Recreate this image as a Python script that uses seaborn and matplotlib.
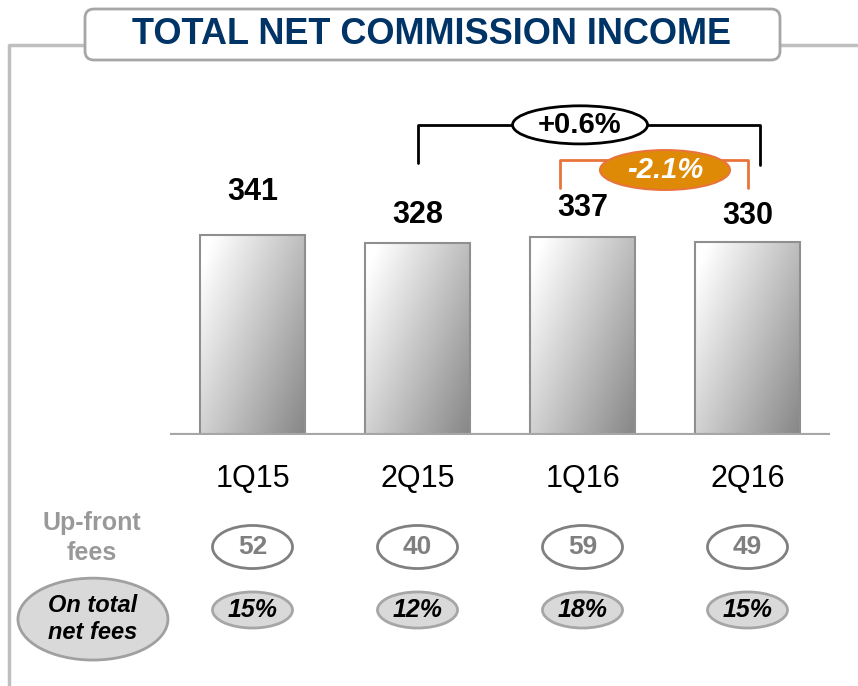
import numpy as np
import pandas as pd
import matplotlib
matplotlib.use("Agg")
import matplotlib.pyplot as plt
from matplotlib.patches import Ellipse, FancyBboxPatch
import seaborn as sns

# chart data
quarters = ["1Q15", "2Q15", "1Q16", "2Q16"]
net_commission = [341, 328, 337, 330]
upfront_fees = [52, 40, 59, 49]
upfront_share = ["15%", "12%", "18%", "15%"]
change_yoy = "+0.6%"
change_qoq = "-2.1%"
title = "TOTAL NET COMMISSION INCOME"

sns.set_theme(style="white")
plt.rcParams["font.family"] = ["Liberation Sans", "DejaVu Sans"]

W, H = 858, 686
fig = plt.figure(figsize=(W / 100, H / 100), dpi=100)

# main bar axes (pixel layout: x 170..830, baseline at y=435, top at y=85)
ax = fig.add_axes([170 / W, 1 - 435 / H, 660 / W, 350 / H])
df = pd.DataFrame({"quarter": quarters, "value": net_commission})
sns.barplot(data=df, x="quarter", y="value", ax=ax, width=0.64,
            color="white", edgecolor="#8f8f8f", linewidth=1.5, saturation=1)

# gradient fill on each bar
ny, nx = 100, 100
u = np.linspace(0, 1, nx)[None, :]
v = np.linspace(1, 0, ny)[:, None]
t = np.clip(0.62 * u + 0.45 * (1 - v) - 0.08, 0, 1)
grad = np.ones((ny, nx, 3)) * (1 - 0.48 * t)[..., None]
for p in ax.patches:
    x0, w, h = p.get_x(), p.get_width(), p.get_height()
    im = ax.imshow(grad, extent=(x0, x0 + w, 0, h), aspect="auto", zorder=p.get_zorder() + 0.1)
    im.set_clip_path(p)
    p.set_zorder(p.get_zorder() + 0.2)
    p.set_facecolor("none")
ax.set_xlim(-0.5, 3.5)
ax.set_ylim(0, 597)

ax.axhline(0, color="#a6a6a6", lw=3, zorder=5)
for s in ax.spines.values():
    s.set_visible(False)
ax.set_yticks([])
ax.set_xlabel("")
ax.set_ylabel("")
ax.tick_params(axis="x", length=0, pad=21, labelsize=22, labelcolor="black")

# value labels above bars
label_pad = [31, 20, 21.5, 18.5]
for i, val in enumerate(net_commission):
    ax.annotate(str(val), (i, val), xytext=(0, label_pad[i]), textcoords="offset points",
                ha="center", va="center", fontsize=22, fontweight="bold", color="black")

# +0.6% bracket (2Q15 -> 2Q16)
yb_top = max(net_commission[1:]) + 192
ax.plot([1, 1, 3.076, 3.076], [yb_top - 65, yb_top, yb_top, yb_top - 69],
        color="black", lw=2, zorder=6, clip_on=False)
ax.add_patch(Ellipse((1.985, yb_top), 0.818, 65, facecolor="white", edgecolor="black",
                     lw=2, zorder=7, clip_on=False))
ax.text(1.985, yb_top, change_yoy, ha="center", va="center", fontsize=21,
        fontweight="bold", color="black", zorder=8)

# -2.1% bracket (1Q16 -> 2Q16)
yo_top = max(net_commission[2:]) + 132
ax.plot([1.864, 1.864, 3.003, 3.003], [yo_top - 48, yo_top, yo_top, yo_top - 48],
        color="#e8743b", lw=2, zorder=6, clip_on=False)
ax.add_patch(Ellipse((2.5, yo_top - 17), 0.788, 68, facecolor="#df8a06", edgecolor="#e8743b",
                     lw=1.5, zorder=7, clip_on=False))
ax.text(2.5, yo_top - 17, change_qoq, ha="center", va="center", fontsize=21,
        fontweight="bold", style="italic", color="white", zorder=8)

# rows under the chart
tr = ax.get_xaxis_transform()
for i, (fee, share) in enumerate(zip(upfront_fees, upfront_share)):
    xc = i
    ax.add_patch(Ellipse((xc, -0.32), 0.485, 0.123, transform=tr, facecolor="white",
                         edgecolor="#808080", lw=2, clip_on=False))
    ax.text(xc, -0.32, str(fee), transform=tr, ha="center", va="center",
            fontsize=19, fontweight="bold", color="#7f7f7f")
    ax.add_patch(Ellipse((xc, -0.5), 0.485, 0.103, transform=tr, facecolor="#d9d9d9",
                         edgecolor="#a6a6a6", lw=2, clip_on=False))
    ax.text(xc, -0.5, share, transform=tr, ha="center", va="center",
            fontsize=18, fontweight="bold", style="italic", color="black")

ax.text(-0.973, -0.295, "Up-front\nfees", transform=tr, ha="center", va="center",
        fontsize=18, fontweight="bold", color="#999999", linespacing=1.3)
ax.add_patch(Ellipse((-0.967, -0.526), 0.909, 0.234, transform=tr, facecolor="#d9d9d9",
                     edgecolor="#a0a0a0", lw=2, clip_on=False))
ax.text(-0.967, -0.526, "On total\nnet fees", transform=tr, ha="center", va="center",
        fontsize=17, fontweight="bold", style="italic", color="black", linespacing=1.25)

# frame and title box (pixel coords overlay)
deco = fig.add_axes([0, 0, 1, 1], zorder=-1)
deco.set_xlim(0, W)
deco.set_ylim(H, 0)
deco.axis("off")
deco.plot([9, 9, 85], [H, 45, 45], color="#bfbfbf", lw=2.5)
deco.plot([780, W], [45, 45], color="#bfbfbf", lw=2.5)
top = fig.add_axes([0, 0, 1, 1], zorder=10)
top.set_xlim(0, W)
top.set_ylim(H, 0)
top.axis("off")
top.add_patch(FancyBboxPatch((85, 9), 695, 51, boxstyle="round,pad=0,rounding_size=9",
                             facecolor="white", edgecolor="#a6a6a6", lw=2))
top.text(432, 35, title, ha="center", va="center", fontsize=26,
         fontweight="bold", color="#003366")

fig.savefig("out.png", dpi=100)
